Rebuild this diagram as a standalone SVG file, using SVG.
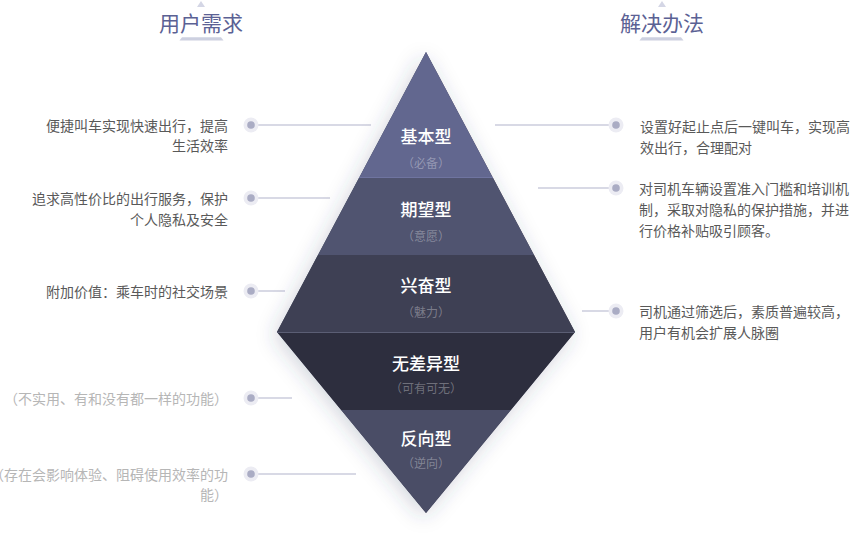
<svg xmlns="http://www.w3.org/2000/svg" width="850" height="543" viewBox="0 0 850 543">
  <style>
    text { font-family: "Noto Sans CJK SC", "Noto Sans", sans-serif; }
    .hd { font-size: 21px; fill: #5b6194; text-anchor: middle; }
    .hdmark { fill: #d4d6e5; }
    .lbl { font-size: 17px; fill: #ffffff; text-anchor: middle; font-weight: 500; }
    .sub { font-size: 12px; fill: #ffffff; fill-opacity: 0.33; text-anchor: middle; }
    .lt { font-size: 14px; fill: #595959; text-anchor: end; }
    .lt2 { font-size: 14px; fill: #b6b6b6; text-anchor: end; }
    .rt { font-size: 14px; fill: #595959; }
    .ln { stroke: #d8d9e5; stroke-width: 2; fill: none; }
    .dot-o { fill: #ececf3; }
    .dot-i { fill: #aaacc4; }
  </style>
  <defs>
    <filter id="sh" x="-30%" y="-20%" width="160%" height="140%">
      <feDropShadow dx="-3" dy="4" stdDeviation="10" flood-color="#3a4066" flood-opacity="0.22"/>
    </filter>
  </defs>

  <rect width="850" height="543" fill="#ffffff"/>

  <g id="header-left">
    <polygon class="hdmark" points="197,7 205,7 201,1"/>
    <text class="hd" x="201" y="30.5">用户需求</text>
    <polygon fill="#cdd0e0" points="182,37.3 221,37.3 223.5,40.5 179.5,40.5"/>
  </g>
  <g id="header-right">
    <polygon class="hdmark" points="658,7 666,7 662,1"/>
    <text class="hd" x="662" y="30.5">解决办法</text>
    <polygon fill="#cdd0e0" points="642,37.3 681,37.3 683.5,40.5 639.5,40.5"/>
  </g>

  <g id="connectors">
    <line class="ln" x1="251" y1="125" x2="371" y2="125"/>
    <line class="ln" x1="495" y1="125" x2="616" y2="125"/>
    <line class="ln" x1="251" y1="198" x2="330" y2="198"/>
    <line class="ln" x1="538" y1="188" x2="616" y2="188"/>
    <line class="ln" x1="251" y1="291" x2="285" y2="291"/>
    <line class="ln" x1="582" y1="311" x2="616" y2="311"/>
    <line class="ln" x1="251" y1="398" x2="292" y2="398"/>
    <line class="ln" x1="251" y1="474" x2="356" y2="474"/>
    <g>
      <circle class="dot-o" cx="251" cy="125" r="7.5"/><circle class="dot-i" cx="251" cy="125" r="3.8"/>
      <circle class="dot-o" cx="616" cy="125" r="7.5"/><circle class="dot-i" cx="616" cy="125" r="3.8"/>
      <circle class="dot-o" cx="251" cy="198" r="7.5"/><circle class="dot-i" cx="251" cy="198" r="3.8"/>
      <circle class="dot-o" cx="616" cy="188" r="7.5"/><circle class="dot-i" cx="616" cy="188" r="3.8"/>
      <circle class="dot-o" cx="251" cy="291" r="7.5"/><circle class="dot-i" cx="251" cy="291" r="3.8"/>
      <circle class="dot-o" cx="616" cy="311" r="7.5"/><circle class="dot-i" cx="616" cy="311" r="3.8"/>
      <circle class="dot-o" cx="251" cy="398" r="7.5"/><circle class="dot-i" cx="251" cy="398" r="3.8"/>
      <circle class="dot-o" cx="251" cy="474" r="7.5"/><circle class="dot-i" cx="251" cy="474" r="3.8"/>
    </g>
  </g>

  <g id="diamond">
    <polygon points="426,52 575,332 426,513 277,332" fill="#3d3f53" filter="url(#sh)"/>
    <g id="band-basic">
      <polygon points="426,52 493,178 359,178" fill="#62678f"/>
      <line x1="359" y1="177.5" x2="493" y2="177.5" stroke="#6f74a0" stroke-width="1"/>
      <text class="lbl" x="426" y="143">基本型</text>
      <text class="sub" x="426" y="168">（必备）</text>
    </g>
    <g id="band-expected">
      <polygon points="359,178 493,178 534,255 318,255" fill="#505470"/>
      <text class="lbl" x="426" y="216">期望型</text>
      <text class="sub" x="426" y="240.5">（意愿）</text>
    </g>
    <g id="band-exciting">
      <polygon points="318,255 534,255 575,332 277,332" fill="#3e4054"/>
      <text class="lbl" x="426" y="291.5">兴奋型</text>
      <text class="sub" x="426" y="316.5">（魅力）</text>
    </g>
    <g id="band-indifferent">
      <polygon points="277,332 575,332 510.8,410 341.2,410" fill="#2d2e3e"/>
      <line x1="277" y1="332.5" x2="575" y2="332.5" stroke="#5b5e74" stroke-width="1"/>
      <text class="lbl" x="426" y="370">无差异型</text>
      <text class="sub" x="426" y="393">（可有可无）</text>
    </g>
    <g id="band-reverse">
      <polygon points="341.2,410 510.8,410 426,513" fill="#4a4d66"/>
      <text class="lbl" x="426" y="445">反向型</text>
      <text class="sub" x="426" y="468">（逆向）</text>
    </g>
  </g>

  <g id="need-1">
    <text class="lt" x="228" y="131"><tspan x="228">便捷叫车实现快速出行，提高</tspan><tspan x="228" dy="20">生活效率</tspan></text>
  </g>
  <g id="need-2">
    <text class="lt" x="228" y="204"><tspan x="228">追求高性价比的出行服务，保护</tspan><tspan x="228" dy="21">个人隐私及安全</tspan></text>
  </g>
  <g id="need-3">
    <text class="lt" x="228" y="297">附加价值：乘车时的社交场景</text>
  </g>
  <g id="need-4">
    <text class="lt2" x="228" y="403.5">（不实用、有和没有都一样的功能）</text>
  </g>
  <g id="need-5">
    <text class="lt2" x="228" y="480"><tspan x="228">（存在会影响体验、阻碍使用效率的功</tspan><tspan x="228" dy="20">能）</tspan></text>
  </g>

  <g id="solution-1">
    <text class="rt" x="640" y="132"><tspan x="640">设置好起止点后一键叫车，实现高</tspan><tspan x="640" dy="21">效出行，合理配对</tspan></text>
  </g>
  <g id="solution-2">
    <text class="rt" x="639" y="193.5"><tspan x="639">对司机车辆设置准入门槛和培训机</tspan><tspan x="639" dy="21">制，采取对隐私的保护措施，并进</tspan><tspan x="639" dy="21">行价格补贴吸引顾客。</tspan></text>
  </g>
  <g id="solution-3">
    <text class="rt" x="639" y="316.5"><tspan x="639">司机通过筛选后，素质普遍较高，</tspan><tspan x="639" dy="21.5">用户有机会扩展人脉圈</tspan></text>
  </g>
</svg>
